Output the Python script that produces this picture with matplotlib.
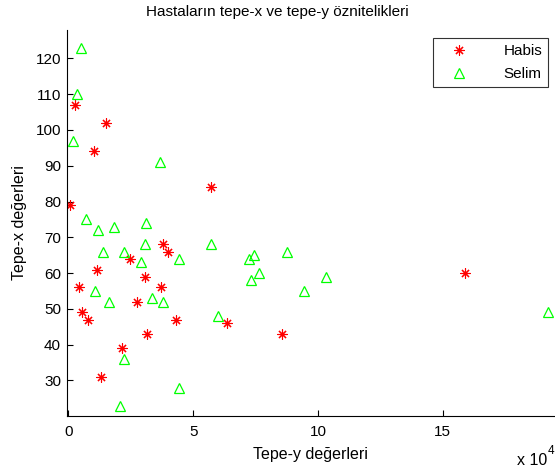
import matplotlib
matplotlib.use('Agg')
import matplotlib.pyplot as plt

plt.rcParams['font.family'] = ['Liberation Sans', 'DejaVu Sans']

# Habis (malignant) : tepe-y (x 1e4), tepe-x
habis_x = [0.07, 0.27, 1.51, 1.03, 5.72, 0.43, 1.15, 2.47, 3.80, 3.99, 3.07,
           3.71, 2.75, 0.55, 0.79, 4.30, 3.15, 2.15, 1.30, 6.35, 8.55, 15.90]
habis_y = [79, 107, 102, 94, 84, 56, 61, 64, 68, 66, 59,
           56, 52, 49, 47, 47, 43, 39, 31, 46, 43, 60]

# Selim (benign)
selim_x = [0.50, 0.36, 0.20, 3.67, 0.71, 1.20, 1.83, 3.11, 3.08, 1.40, 2.24,
           2.90, 4.44, 1.07, 1.63, 3.36, 3.80, 2.24, 2.07, 4.44, 5.71, 7.24,
           7.43, 8.78, 7.63, 7.31, 10.34, 9.44, 6.00, 19.20]
selim_y = [123, 110, 97, 91, 75, 72, 73, 74, 68, 66, 66,
           63, 64, 55, 52, 53, 52, 36, 23, 28, 68, 64,
           65, 66, 60, 58, 59, 55, 48, 49]

xticks = [0, 5, 10, 15]
yticks = [30, 40, 50, 60, 70, 80, 90, 100, 110, 120]

fig = plt.figure(figsize=(5.55, 4.73), dpi=100)
ax = fig.add_axes([0.120, 0.120, 0.880, 0.817])

ax.plot(habis_x, habis_y, linestyle='none', marker=(8, 2, 0), markersize=7.2,
        markeredgewidth=0.8, color='#ff0000', label='Habis')
ax.plot(selim_x, selim_y, linestyle='none', marker='^', markersize=7.5,
        markeredgewidth=0.9, markerfacecolor='none', markeredgecolor='#00ff00',
        label='Selim')

ax.set_xlim(-0.07, 19.5)
ax.set_ylim(20, 128)
ax.set_xticks(xticks)
ax.set_xticklabels([str(t) for t in xticks])
ax.set_yticks(yticks)
ax.set_yticklabels([str(t) for t in yticks])
ax.tick_params(direction='in', length=4, width=0.8, labelsize=11)
ax.tick_params(axis='y', pad=4)
ax.tick_params(axis='x', pad=6)

for s in ['top', 'right']:
    ax.spines[s].set_visible(False)
for s in ['left', 'bottom']:
    ax.spines[s].set_linewidth(0.8)

ax.set_title('Hastaların tepe-x ve tepe-y öznitelikleri', fontsize=11,
             x=0.432, pad=10)
ax.set_xlabel('Tepe-y değerleri', fontsize=11.5, labelpad=6)
ax.set_ylabel('Tepe-x değerleri', fontsize=11.5, labelpad=6)

fig.text(0.932, 0.011, 'x 10', fontsize=11.5, ha='left', va='bottom')
fig.text(0.986, 0.034, '4', fontsize=8.5, ha='left', va='bottom')

leg = ax.legend(loc='upper right', bbox_to_anchor=(0.986, 0.979), fontsize=11,
                frameon=True, fancybox=False, edgecolor='black',
                handletextpad=1.6, borderpad=0.4, labelspacing=0.6,
                handlelength=2.6, borderaxespad=0)
leg.get_frame().set_linewidth(0.8)

fig.savefig('out.png', dpi=100)
